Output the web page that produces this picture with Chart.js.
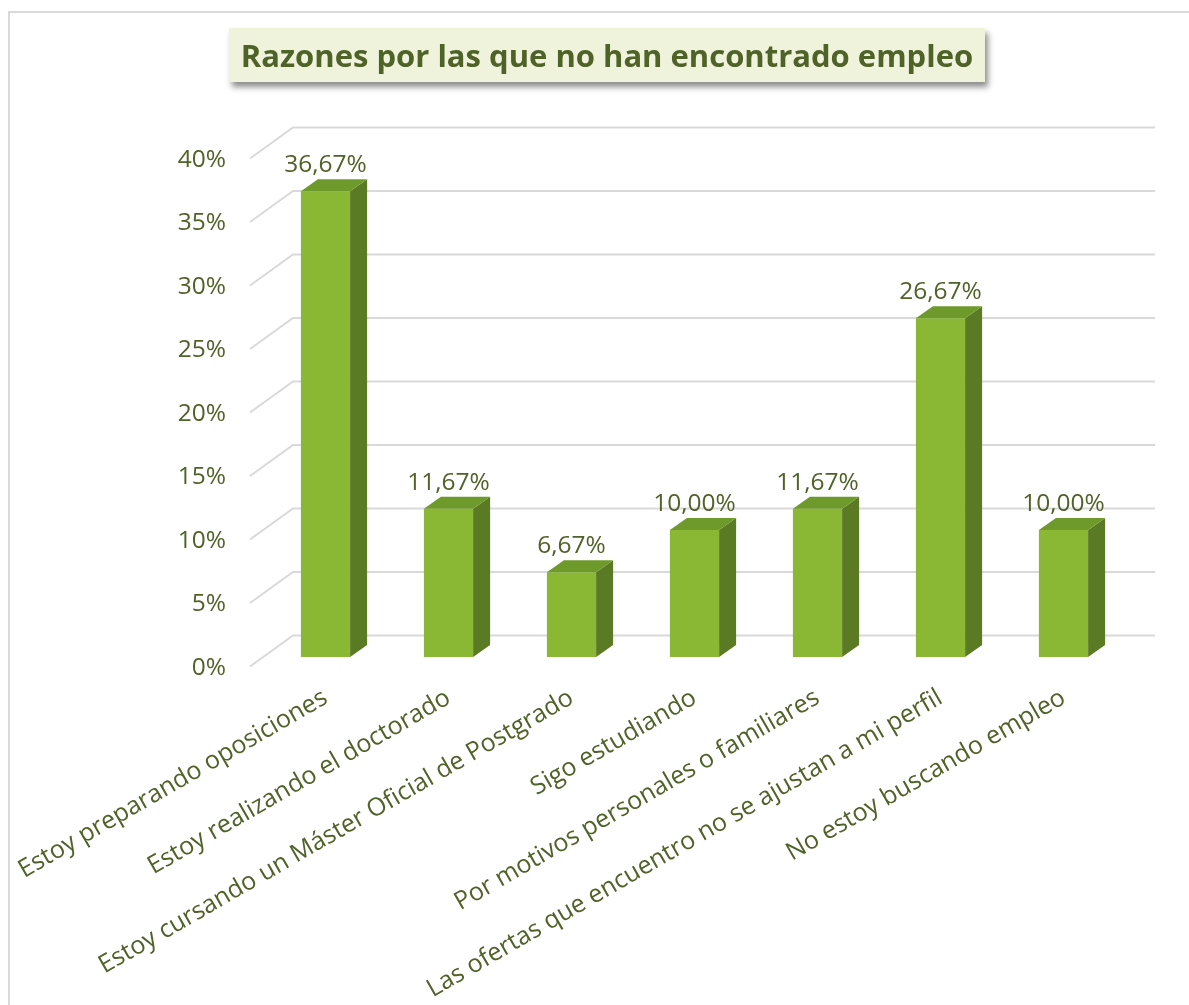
<!DOCTYPE html>
<html>
<head>
<meta charset="utf-8">
<script src="https://cdn.jsdelivr.net/npm/chart.js@4.4.1/dist/chart.umd.min.js"></script>
<style>
  body { margin: 0; background: #fff; }
  #wrap { position: relative; width: 1189px; height: 1005px; }
  #title {
    position: absolute; left: 229px; top: 28px; width: 756px; height: 54px;
    background: #eff3dc; box-shadow: 3px 5px 6px rgba(0,0,0,0.45);
    font-family: "Open Sans", sans-serif; font-weight: bold; font-size: 31px;
    color: #4f6228; text-align: center; line-height: 54px; white-space: nowrap;
  }
</style>
</head>
<body>
<div id="wrap">
  <canvas id="myChart" width="1189" height="1005"></canvas>
  <div id="title">Razones por las que no han encontrado empleo</div>
</div>
<script>
const categories = [
  "Estoy preparando oposiciones",
  "Estoy realizando el doctorado",
  "Estoy cursando un Máster Oficial de Postgrado",
  "Sigo estudiando",
  "Por motivos personales o familiares",
  "Las ofertas que encuentro no se ajustan a mi perfil",
  "No estoy buscando empleo"
];
const values = [36.67, 11.67, 6.67, 10.0, 11.67, 26.67, 10.0];
const yTicks = [0, 5, 10, 15, 20, 25, 30, 35, 40];

const textColor = "#4f6228";
const gridColor = "#d9d9d9";

// marco gris de la imagen + suelo/pared 3D
const backdrop = {
  id: "backdrop",
  beforeDraw(chart) {
    const ctx = chart.ctx;
    ctx.save();
    ctx.strokeStyle = "#d9d9d9";
    ctx.lineWidth = 2;
    ctx.beginPath();
    ctx.moveTo(9, 1010);
    ctx.lineTo(9, 12);
    ctx.lineTo(1195, 12);
    ctx.stroke();
    ctx.restore();
  },
  beforeDatasetsDraw(chart) {
    const ctx = chart.ctx;
    const y = chart.scales.y;
    ctx.save();
    ctx.strokeStyle = gridColor;
    ctx.lineWidth = 2;
    yTicks.forEach((v) => {
      const py = y.getPixelForValue(v);
      ctx.beginPath();
      ctx.moveTo(250, py + 9.5);
      ctx.lineTo(293, py - 21.5);
      ctx.lineTo(1155, py - 21.5);
      ctx.stroke();
    });
    ctx.restore();
  }
};

// caras superior y lateral de las barras + etiquetas
const bars3d = {
  id: "bars3d",
  afterDatasetsDraw(chart) {
    const ctx = chart.ctx;
    const meta = chart.getDatasetMeta(0);
    const dx = 17, dy = -12;
    ctx.save();
    meta.data.forEach((bar, i) => {
      const l = bar.x - bar.width / 2;
      const r = bar.x + bar.width / 2;
      const t = bar.y;
      const b = bar.base;
      // lateral
      ctx.fillStyle = "#5a7a23";
      ctx.beginPath();
      ctx.moveTo(r, t);
      ctx.lineTo(r + dx, t + dy);
      ctx.lineTo(r + dx, b + dy);
      ctx.lineTo(r, b);
      ctx.closePath();
      ctx.fill();
      // superior
      ctx.fillStyle = "#6e9a2c";
      ctx.beginPath();
      ctx.moveTo(l, t);
      ctx.lineTo(l + dx, t + dy);
      ctx.lineTo(r + dx, t + dy);
      ctx.lineTo(r, t);
      ctx.closePath();
      ctx.fill();
      // etiqueta
      ctx.fillStyle = textColor;
      ctx.font = "24.5px 'Open Sans'";
      ctx.textAlign = "center";
      ctx.textBaseline = "alphabetic";
      ctx.fillText(values[i].toFixed(2).replace(".", ",") + "%", bar.x, t + dy - 7);
    });
    ctx.restore();
  }
};

const ctx = document.getElementById("myChart").getContext("2d");
const myChart = new Chart(ctx, {
  type: "bar",
  data: {
    labels: categories,
    datasets: [
      {
        data: values,
        backgroundColor: "#8ab734",
        borderWidth: 0,
        barPercentage: 0.4,
        categoryPercentage: 1.0,
      },
    ],
  },
  options: {
    responsive: false,
    animation: false,
    layout: { padding: { left: 0, top: 149, right: 64, bottom: 0 } },
    scales: {
      x: {
        grid: { display: false },
        border: { display: false },
        ticks: {
          color: textColor,
          font: { family: "'Open Sans'", size: 25 },
          autoSkip: false,
          minRotation: 30,
          maxRotation: 30,
          padding: 18,
        },
        afterFit: (s) => {
          s.height = 348;
          s.paddingLeft = 0;
          s.paddingRight = 0;
        },
      },
      y: {
        min: 0,
        max: 40,
        grid: { display: false, drawTicks: false },
        border: { display: false },
        ticks: {
          stepSize: 5,
          color: textColor,
          font: { family: "'Open Sans'", size: 24.5 },
          padding: 38,
          labelOffset: 11,
          callback: (v) => v + "%",
        },
        afterFit: (s) => {
          s.width = 264;
          s.paddingTop = 0;
          s.paddingBottom = 0;
        },
      },
    },
    plugins: {
      legend: { display: false },
      tooltip: { enabled: false },
    },
  },
  plugins: [backdrop, bars3d],
});
</script>
</body>
</html>
